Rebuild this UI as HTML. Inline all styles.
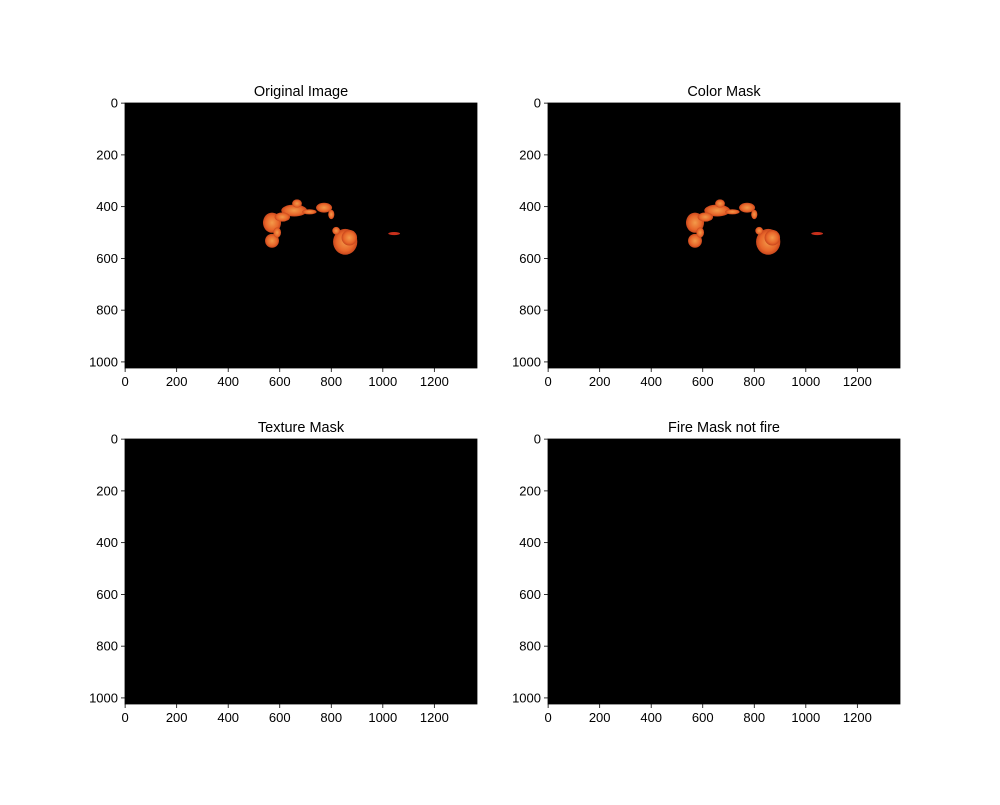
<!DOCTYPE html>
<html><head><meta charset="utf-8"><style>
body{margin:0;background:#fff;font-family:"Liberation Sans","DejaVu Sans",sans-serif}
</style></head><body>
<svg id="fig" width="1000" height="800" xmlns="http://www.w3.org/2000/svg">
<defs>
<radialGradient id="fire" cx="50%" cy="50%" r="50%">
<stop offset="0%" stop-color="#f39a4a"/><stop offset="70%" stop-color="#e8662a"/><stop offset="100%" stop-color="#c8461c"/>
</radialGradient>
</defs>
</svg>
<script>
const panelTitles=["Original Image","Color Mask","Texture Mask","Fire Mask not fire"];
const xTicks=[0,200,400,600,800,1000,1200];
const yTicks=[0,200,400,600,800,1000];
const imgW=1366, imgH=1024;
const blobCX=[570,570,656,667,772,854,819,1044,610,715,800,590,870];
const blobCY=[462,532,415,388,404,536,493,504,440,420,430,500,520];
const blobRX=[35,27,50,19,31,47,15,23,30,28,12,15,30];
const blobRY=[39,27,23,16,19,50,15,6,18,10,18,20,30];
const blobRed=[0,0,0,0,0,0,0,1,0,0,0,0,0];
const showFire=[1,1,0,0];
const NS="http://www.w3.org/2000/svg";
const svg=document.getElementById('fig');
const panels=[[125,103],[548,103],[125,439],[548,439]];
const W=352,H=265;
function mk(t,a,p){const e=document.createElementNS(NS,t);for(const k in a)e.setAttribute(k,a[k]);(p||svg).appendChild(e);return e;}
panels.forEach((pp,i)=>{
  const [x0,y0]=pp;
  const sx=v=>x0+(v+0.5)*W/imgW, sy=v=>y0+(v+0.5)*H/imgH;
  const g=mk('g',{});
  
  
  const r=mk('rect',{x:x0,y:y0,width:W,height:H,fill:'#000',stroke:'#000','stroke-width':0.8},g);
  
  
  if(showFire[i]){
    for(let k=0;k<blobCX.length;k++){
      const e=mk('ellipse',{cx:sx(blobCX[k]),cy:sy(blobCY[k]),rx:blobRX[k]*W/imgW,ry:blobRY[k]*H/imgH,fill:blobRed[k]?'#c8301c':'url(#fire)'},g);
      
      
    }
  }
  const t=mk('text',{x:x0+W/2,y:y0-7,'text-anchor':'middle','font-size':14.5,fill:'#000'},g);
  t.textContent=panelTitles[i];
  
  
  xTicks.forEach(v=>{
    const x=sx(v);
    mk('line',{x1:x,x2:x,y1:y0+H,y2:y0+H+4,stroke:'#000','stroke-width':0.8},g);
    const l=mk('text',{x:x,y:y0+H+18,'text-anchor':'middle','font-size':13,fill:'#000'},g);
    l.textContent=v;
    
    
  });
  yTicks.forEach(v=>{
    const y=sy(v);
    mk('line',{x1:x0-4,x2:x0,y1:y,y2:y,stroke:'#000','stroke-width':0.8},g);
    const l=mk('text',{x:x0-7,y:y+4.5,'text-anchor':'end','font-size':13,fill:'#000'},g);
    l.textContent=v;
    
    
  });
});
</script>
</body></html>
